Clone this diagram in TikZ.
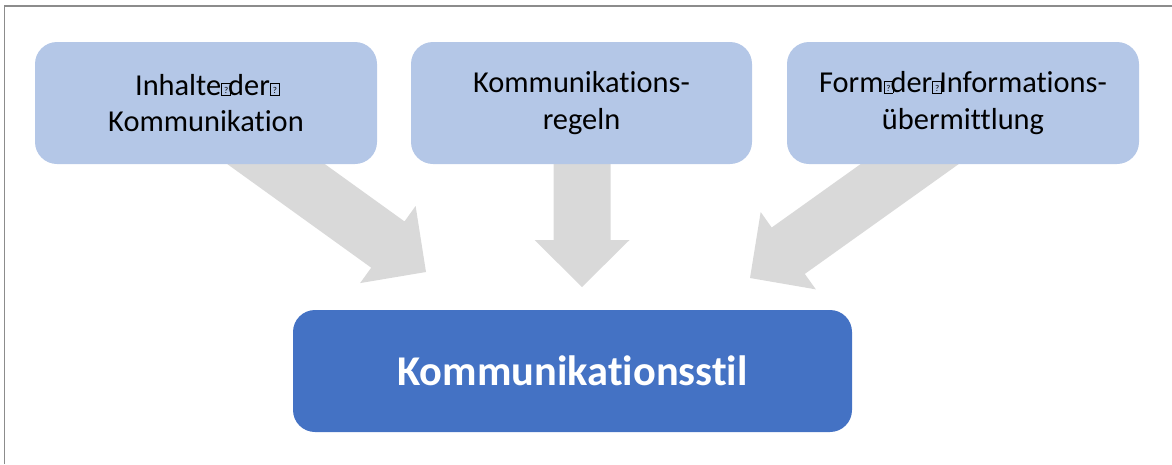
\documentclass[tikz,border=0pt]{standalone}
\usepackage{fontspec}
\setmainfont{Carlito}[Ligatures=NoCommon]
\usetikzlibrary{calc}
\definecolor{boxlight}{HTML}{B4C7E7}
\definecolor{boxdark}{HTML}{4472C4}
\definecolor{arrowgray}{HTML}{D9D9D9}
\definecolor{framegray}{HTML}{8C8C8C}

% placeholder glyph box, as printed for characters the font could not show
\newcommand\nochar{\makebox[7pt][l]{\setlength\fboxsep{0pt}\setlength\fboxrule{0.7pt}%
  \fbox{\makebox[8.5pt]{\rule{0pt}{11pt}\raisebox{1.5pt}{\fontsize{9}{9}\selectfont ?}}}}}

% wide block arrow from a start point (#1) to its tip (#2)
\newcommand\blockarrow[2]{%
  \path ($(#2)!47pt!(#1)$) coordinate (hb);
  \fill[arrowgray] ($(#1)!28.5pt!90:(#2)$) -- ($(hb)!28.5pt!90:(#2)$)
    -- ($(hb)!47.5pt!90:(#2)$) -- (#2) -- ($(hb)!47.5pt!-90:(#2)$)
    -- ($(hb)!28.5pt!-90:(#2)$) -- ($(#1)!28.5pt!-90:(#2)$) -- cycle;}

\begin{document}
\begin{tikzpicture}[x=1pt,y=-1pt,
  topbox/.style={fill=boxlight, rounded corners=22pt, minimum width=#1,
    minimum height=122pt, inner sep=0pt, align=center,
    font=\fontsize{30.4}{36.5}\selectfont},
  mainbox/.style={fill=boxdark, rounded corners=22pt, minimum width=559pt,
    minimum height=122pt, inner sep=0pt, text=white,
    font=\fontsize{42.4}{48}\selectfont\bfseries}]
\useasboundingbox (0,0) rectangle (1172,464);

% frame edges
\draw[framegray, line width=1.5pt] (4.5,464) -- (4.5,6) -- (1172,6);

% arrow start points (hidden under the upper boxes) and tips
\coordinate (s1) at (244,141);
\coordinate (t1) at (426,272);
\coordinate (s2) at (582,141);
\coordinate (t2) at (582,287);
\coordinate (s3) at (942,141);
\coordinate (t3) at (750,278);

\blockarrow{s1}{t1}
\blockarrow{s2}{t2}
\blockarrow{s3}{t3}

% boxes
\node[topbox=342pt] (b1) at (206,103) {Inhalte\nochar der\nochar\\Kommunikation};
\node[topbox=341pt] (b2) at (581.5,103) {Kommunikations-\\regeln};
\node[topbox=352pt] (b3) at (963,103) {Form\nochar der\nochar Informations-\\übermittlung};
\node[mainbox] (stil) at (572.5,371) {Kommunikationsstil};
\end{tikzpicture}
\end{document}
